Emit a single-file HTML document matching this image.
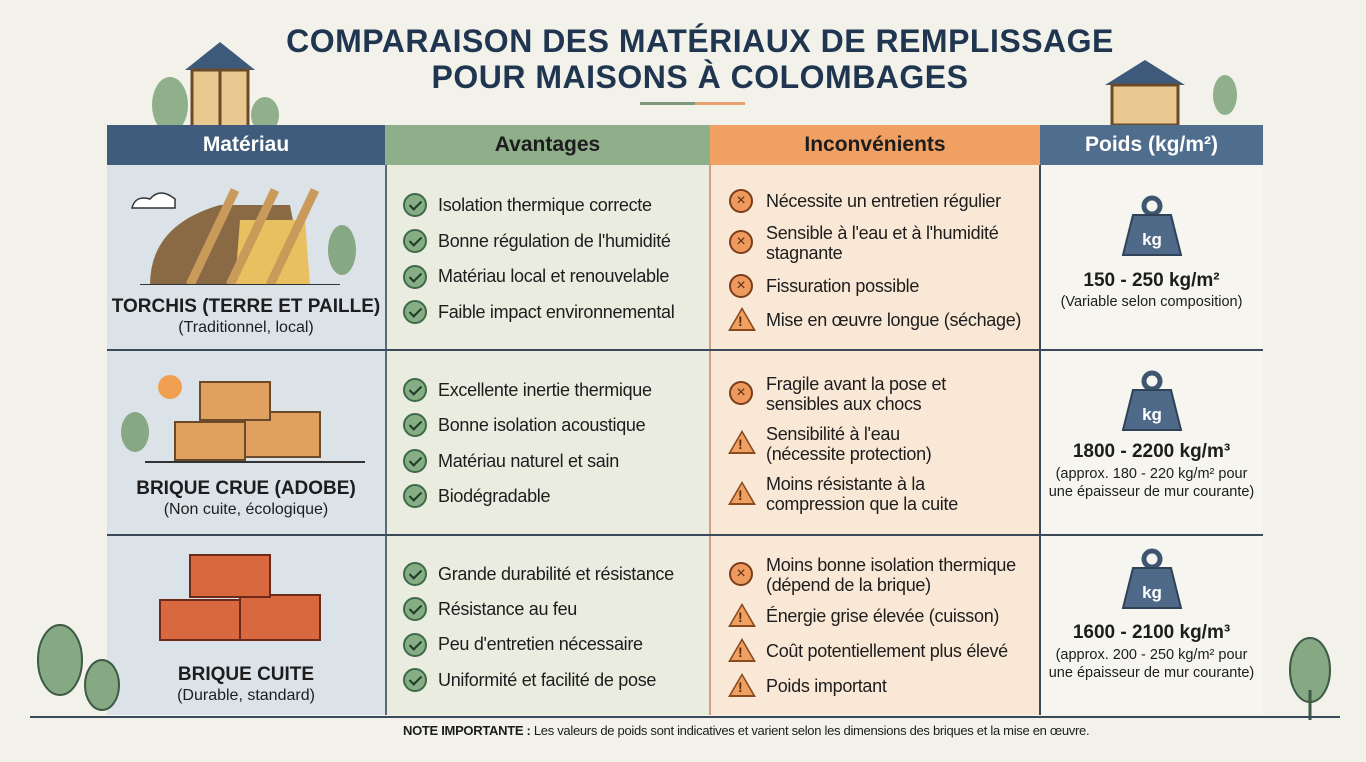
<!DOCTYPE html>
<html><head><meta charset="utf-8"><style>
*{margin:0;padding:0;box-sizing:border-box}
body{width:1366px;height:762px;background:#f2f1ea;font-family:"Liberation Sans",sans-serif;position:relative;overflow:hidden;color:#1d1d1d}
.a{position:absolute}
.t{position:absolute;left:17px;width:1366px;text-align:center;font-weight:bold;font-size:32px;color:#1f3550;letter-spacing:0.5px}
.h{position:absolute;top:125px;height:40px;text-align:center;line-height:40px;font-weight:bold;font-size:21px}
.li{position:absolute;font-size:18px;line-height:20px;letter-spacing:-0.3px}
.ic{position:absolute;width:24px;height:24px;border-radius:50%}
.ok{border:2px solid #3d6b4a;background:#86ad84}
.ok:after{content:"";position:absolute;left:7px;top:3px;width:5px;height:10px;border:solid #1e3b28;border-width:0 2px 2px 0;transform:rotate(45deg)}
.ko{border:2px solid #7a3d1a;background:#ee9a5e;text-align:center;line-height:20px;font-size:16px;color:#5a2a10}
.w{position:absolute;width:0;height:0;border-left:14px solid transparent;border-right:14px solid transparent;border-bottom:24px solid #8a4a20}
.w:after{content:"!";position:absolute;left:-4px;top:6px;font-size:14px;font-weight:bold;color:#5a2a10}
.w:before{content:"";position:absolute;left:-11px;top:3px;border-left:11px solid transparent;border-right:11px solid transparent;border-bottom:19px solid #f0a060}
.name{position:absolute;left:107px;width:278px;text-align:center;font-weight:bold;font-size:19px}
.sub{position:absolute;left:107px;width:278px;text-align:center;font-size:16px}
.pv{position:absolute;left:1040px;width:223px;text-align:center;font-weight:bold;font-size:19px}
.ps{position:absolute;left:1040px;width:223px;text-align:center;font-size:14.5px;line-height:18px}
</style></head><body>
<div class="t" style="top:23px">COMPARAISON DES MATÉRIAUX DE REMPLISSAGE</div>
<div class="t" style="top:59px">POUR MAISONS À COLOMBAGES</div>
<div class="a" style="left:640px;top:102px;width:55px;height:3px;background:#7a9a7a"></div>
<div class="a" style="left:695px;top:102px;width:50px;height:3px;background:#e8a070"></div>
<svg class="a" style="left:130px;top:40px" width="150" height="90"><polygon points="55,30 90,2 125,30" fill="#3e5a7a"/><rect x="62" y="30" width="56" height="60" fill="#e9c98f" stroke="#6b4a2a" stroke-width="3"/><line x1="90" y1="30" x2="90" y2="90" stroke="#6b4a2a" stroke-width="3"/><ellipse cx="40" cy="65" rx="18" ry="28" fill="#8fb08a"/><ellipse cx="135" cy="75" rx="14" ry="18" fill="#8fb08a"/></svg>
<svg class="a" style="left:1100px;top:55px" width="150" height="70"><polygon points="5,30 45,5 85,30" fill="#3e5a7a"/><rect x="12" y="30" width="66" height="40" fill="#e9c98f" stroke="#6b4a2a" stroke-width="3"/><ellipse cx="125" cy="40" rx="12" ry="20" fill="#8fb08a"/></svg>
<div class="a" style="left:107px;top:165px;width:278px;height:550px;background:#dbe2e8"></div>
<div class="a" style="left:385px;top:165px;width:325px;height:550px;background:#e9ecdf"></div>
<div class="a" style="left:710px;top:165px;width:330px;height:550px;background:#fae8d6"></div>
<div class="a" style="left:1040px;top:165px;width:223px;height:550px;background:#f6f5f0"></div>
<div class="a" style="left:385px;top:165px;width:2px;height:550px;background:#5a6a7a"></div>
<div class="a" style="left:709px;top:165px;width:2px;height:550px;background:#d0a080"></div>
<div class="a" style="left:1039px;top:165px;width:2px;height:550px;background:#3a4a5a"></div>
<div class="a" style="left:107px;top:349px;width:1156px;height:2px;background:#3a4a5a"></div>
<div class="a" style="left:107px;top:534px;width:1156px;height:2px;background:#3a4a5a"></div>
<div class="h" style="left:107px;width:278px;background:#3f5c7c;color:#fff">Matériau</div>
<div class="h" style="left:385px;width:325px;background:#8fae8a">Avantages</div>
<div class="h" style="left:710px;width:330px;background:#f0a062">Inconvénients</div>
<div class="h" style="left:1040px;width:223px;background:#4f6e8e;color:#fff">Poids (kg/m²)</div>
<svg class="a" style="left:130px;top:185px" width="230" height="100"><path d="M20,100 Q20,40 90,20 L160,20 L175,100Z" fill="#8a6a45"/><path d="M110,35 L175,35 L180,100 L105,100Z" fill="#e8c060"/><g stroke="#c99a5a" stroke-width="9"><line x1="60" y1="100" x2="105" y2="5"/><line x1="100" y1="100" x2="145" y2="5"/><line x1="140" y1="100" x2="185" y2="5"/></g><line x1="10" y1="100" x2="210" y2="100" stroke="#333" stroke-width="2"/><ellipse cx="212" cy="65" rx="14" ry="25" fill="#86a882"/><path d="M2,23 Q5,10 20,14 Q30,2 45,14 L45,23Z" fill="#fff" stroke="#333" stroke-width="1.5"/></svg>
<svg class="a" style="left:115px;top:362px" width="260" height="105"><circle cx="55" cy="25" r="12" fill="#f0a050"/><ellipse cx="20" cy="70" rx="14" ry="20" fill="#86a882"/><g fill="#e0a060" stroke="#6b4a2a" stroke-width="2"><rect x="60" y="60" width="70" height="38"/><rect x="130" y="50" width="75" height="45"/><rect x="85" y="20" width="70" height="38"/></g><line x1="30" y1="100" x2="250" y2="100" stroke="#333" stroke-width="2"/></svg>
<svg class="a" style="left:150px;top:545px" width="210" height="110"><g fill="#d9683e" stroke="#6b2a1a" stroke-width="2"><rect x="10" y="55" width="80" height="40"/><rect x="90" y="50" width="80" height="45"/><rect x="40" y="10" width="80" height="42"/></g></svg>
<div class="name" style="top:296px">TORCHIS (TERRE ET PAILLE)</div><div class="sub" style="top:319px">(Traditionnel, local)</div>
<div class="name" style="top:478px">BRIQUE CRUE (ADOBE)</div><div class="sub" style="top:501px">(Non cuite, écologique)</div>
<div class="name" style="top:664px">BRIQUE CUITE</div><div class="sub" style="top:687px">(Durable, standard)</div>
<div class="ic ok" style="left:403px;top:193px"></div><div class="li" style="left:438px;top:195px">Isolation thermique correcte</div>
<div class="ic ok" style="left:403px;top:229px"></div><div class="li" style="left:438px;top:231px">Bonne régulation de l'humidité</div>
<div class="ic ok" style="left:403px;top:265px"></div><div class="li" style="left:438px;top:266px">Matériau local et renouvelable</div>
<div class="ic ok" style="left:403px;top:300px"></div><div class="li" style="left:438px;top:302px">Faible impact environnemental</div>
<div class="ic ok" style="left:403px;top:378px"></div><div class="li" style="left:438px;top:380px">Excellente inertie thermique</div>
<div class="ic ok" style="left:403px;top:413px"></div><div class="li" style="left:438px;top:415px">Bonne isolation acoustique</div>
<div class="ic ok" style="left:403px;top:449px"></div><div class="li" style="left:438px;top:451px">Matériau naturel et sain</div>
<div class="ic ok" style="left:403px;top:484px"></div><div class="li" style="left:438px;top:486px">Biodégradable</div>
<div class="ic ok" style="left:403px;top:562px"></div><div class="li" style="left:438px;top:564px">Grande durabilité et résistance</div>
<div class="ic ok" style="left:403px;top:597px"></div><div class="li" style="left:438px;top:599px">Résistance au feu</div>
<div class="ic ok" style="left:403px;top:633px"></div><div class="li" style="left:438px;top:634px">Peu d'entretien nécessaire</div>
<div class="ic ok" style="left:403px;top:668px"></div><div class="li" style="left:438px;top:670px">Uniformité et facilité de pose</div>
<div class="ic ko" style="left:729px;top:189px">×</div><div class="li" style="left:766px;top:191px">Nécessite un entretien régulier</div>
<div class="ic ko" style="left:729px;top:230px">×</div><div class="li" style="left:766px;top:223px">Sensible à l'eau et à l'humidité<br>stagnante</div>
<div class="ic ko" style="left:729px;top:274px">×</div><div class="li" style="left:766px;top:276px">Fissuration possible</div>
<div class="w" style="left:728px;top:307px"></div><div class="li" style="left:766px;top:310px">Mise en œuvre longue (séchage)</div>
<div class="ic ko" style="left:729px;top:381px">×</div><div class="li" style="left:766px;top:374px">Fragile avant la pose et<br>sensibles aux chocs</div>
<div class="w" style="left:728px;top:430px"></div><div class="li" style="left:766px;top:424px">Sensibilité à l'eau<br>(nécessite protection)</div>
<div class="w" style="left:728px;top:481px"></div><div class="li" style="left:766px;top:474px">Moins résistante à la<br>compression que la cuite</div>
<div class="ic ko" style="left:729px;top:562px">×</div><div class="li" style="left:766px;top:555px">Moins bonne isolation thermique<br>(dépend de la brique)</div>
<div class="w" style="left:728px;top:603px"></div><div class="li" style="left:766px;top:606px">Énergie grise élevée (cuisson)</div>
<div class="w" style="left:728px;top:638px"></div><div class="li" style="left:766px;top:641px">Coût potentiellement plus élevé</div>
<div class="w" style="left:728px;top:673px"></div><div class="li" style="left:766px;top:676px">Poids important</div>
<svg class="a" style="left:1121px;top:195px" width="62" height="62"><circle cx="31" cy="11" r="8" fill="none" stroke="#3f5670" stroke-width="5"/><path d="M12,20 L50,20 L60,60 L2,60Z" fill="#4f6a88" stroke="#2f4258" stroke-width="2"/><text x="31" y="50" text-anchor="middle" font-family="Liberation Sans" font-weight="bold" font-size="17" fill="#fff">kg</text></svg>
<div class="pv" style="top:270px">150 - 250 kg/m²</div><div class="ps" style="top:293px">(Variable selon composition)</div>
<svg class="a" style="left:1121px;top:370px" width="62" height="62"><circle cx="31" cy="11" r="8" fill="none" stroke="#3f5670" stroke-width="5"/><path d="M12,20 L50,20 L60,60 L2,60Z" fill="#4f6a88" stroke="#2f4258" stroke-width="2"/><text x="31" y="50" text-anchor="middle" font-family="Liberation Sans" font-weight="bold" font-size="17" fill="#fff">kg</text></svg>
<div class="pv" style="top:441px">1800 - 2200 kg/m³</div><div class="ps" style="top:465px">(approx. 180 - 220 kg/m² pour<br>une épaisseur de mur courante)</div>
<svg class="a" style="left:1121px;top:548px" width="62" height="62"><circle cx="31" cy="11" r="8" fill="none" stroke="#3f5670" stroke-width="5"/><path d="M12,20 L50,20 L60,60 L2,60Z" fill="#4f6a88" stroke="#2f4258" stroke-width="2"/><text x="31" y="50" text-anchor="middle" font-family="Liberation Sans" font-weight="bold" font-size="17" fill="#fff">kg</text></svg>
<div class="pv" style="top:622px">1600 - 2100 kg/m³</div><div class="ps" style="top:646px">(approx. 200 - 250 kg/m² pour<br>une épaisseur de mur courante)</div>
<svg class="a" style="left:30px;top:620px" width="100" height="100"><ellipse cx="30" cy="40" rx="22" ry="35" fill="#86a882" stroke="#3d5a45" stroke-width="2"/><ellipse cx="72" cy="65" rx="17" ry="25" fill="#86a882" stroke="#3d5a45" stroke-width="2"/></svg>
<svg class="a" style="left:1280px;top:630px" width="60" height="90"><ellipse cx="30" cy="40" rx="20" ry="32" fill="#86a882" stroke="#3d5a45" stroke-width="2"/><line x1="30" y1="60" x2="30" y2="90" stroke="#3d5a45" stroke-width="3"/></svg>
<div class="a" style="left:30px;top:716px;width:1310px;height:2px;background:#3a4a5a"></div>
<div class="a" style="left:403px;top:723px;font-size:13px;letter-spacing:-0.3px"><b>NOTE IMPORTANTE :</b> Les valeurs de poids sont indicatives et varient selon les dimensions des briques et la mise en œuvre.</div>
</body></html>
